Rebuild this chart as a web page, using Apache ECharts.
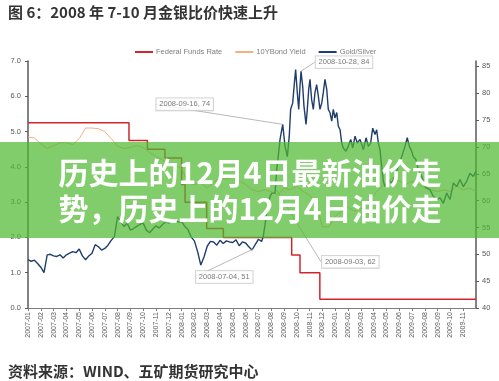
<!DOCTYPE html>
<html><head><meta charset="utf-8">
<script src="https://cdn.jsdelivr.net/npm/echarts@6/dist/echarts.min.js"></script>
<style>html,body{margin:0;padding:0;background:#fff}#c{width:499px;height:381px}</style>
</head><body><div id="c"></div>
<script>
// ---------- data ----------
const titleText = '图 6：2008 年 7-10 月金银比价快速上升';
const sourceText = '资料来源：WIND、五矿期货研究中心';
const bannerLines = ['历史上的12月4日最新油价走', '势，历史上的12月4日油价走'];
const seriesNames = ['Federal Funds Rate', '10YBond Yield', 'Gold/Silver'];
const startYear = 2007;          // month index 0 = 2007-01
const monthCount = 35;           // axis end = 2009-12
// Federal funds rate: month index where a level starts, and the level (%)
const fedMonth = [0, 7.89, 9.33, 10.7, 12.0, 12.27, 13.96, 15.26, 20.6, 21.25, 22.8, 35];
const fedRate  = [5.25, 4.75, 4.5, 4.25, 3.5, 3.0, 2.25, 2.0, 1.5, 1.0, 0.25, 0.25];
// 10Y bond yield (%), every half month from 2007-01
const bondStep = 0.5;
const bondYield = [4.84, 4.82, 4.65, 4.52, 4.60, 4.68, 4.68, 4.63, 4.80, 5.10,
  5.10, 5.08, 5.00, 4.80, 4.58, 4.52, 4.55, 4.60, 4.55, 4.40,
  4.30, 4.20, 4.10, 4.05, 3.95, 3.55, 3.50, 3.55, 3.40, 3.55,
  3.70, 3.65, 3.70, 3.60, 3.50, 3.35, 3.30, 3.35, 3.30, 3.20,
  3.40, 3.35, 3.45, 3.30, 3.20, 3.00, 2.30, 2.30, 2.60, 2.75,
  2.85, 2.75, 2.80, 3.00, 3.20, 3.40, 3.55, 3.70, 3.60, 3.50,
  3.60, 3.50, 3.40, 3.35, 3.30, 3.35, 3.30, 3.45, 3.35, 3.40, 3.30];
// Gold/Silver ratio, weekly (quarter month) from 2007-01 to mid 2008
const gsStep = 0.25;
const gsEarly = [49.0, 48.7, 48.9, 48.3, 47.6, 46.6, 49.9, 50.0, 49.7, 49.6,
  49.9, 49.3, 49.9, 50.2, 50.5, 50.3, 51.0, 49.7, 49.0, 49.7,
  50.2, 51.8, 51.4, 50.8, 51.1, 51.7, 52.6, 53.3, 57.0, 56.0,
  55.2, 55.8, 54.5, 54.8, 55.2, 55.6, 55.8, 54.5, 54.0, 54.7,
  55.3, 54.9, 55.5, 56.1, 55.8, 56.3, 56.4, 56.0, 56.1, 55.2,
  54.6, 53.2, 52.5, 50.5, 48.0, 49.5, 51.5, 52.4, 52.3, 51.7,
  52.6, 52.0, 52.5, 52.3, 52.2, 52.7, 51.6, 52.3, 52.1, 51.4,
  50.8, 51.8, 52.8, 52.4];
// Gold/Silver ratio, later part (month index, value)
const gsLateMonth = [18.38, 18.65, 18.91, 19.04, 19.30, 19.43, 19.55, 19.69, 19.90, 20.08,
  20.26, 20.41, 20.52, 20.68, 20.80, 20.91, 21.04, 21.15, 21.25, 21.33,
  21.46, 21.56, 21.72, 21.82, 21.93, 22.03, 22.16, 22.29, 22.42, 22.55,
  22.68, 22.81, 22.95, 23.07, 23.20, 23.34, 23.46, 23.59, 23.73, 23.85,
  23.98, 24.12, 24.24, 24.38, 24.51, 24.63, 24.84, 25.02, 25.21, 25.37,
  25.55, 25.73, 25.94, 26.20, 26.41, 26.59, 26.77, 26.93, 27.11, 27.24,
  27.37, 27.50, 27.63, 27.76, 27.89, 28.15, 28.41, 28.67, 28.93, 29.20,
  29.45, 29.63, 29.79, 29.98, 30.10, 30.31, 30.49, 30.76, 31.02, 31.41,
  31.66, 31.93, 32.19, 32.45, 32.71, 32.97, 33.23, 33.49, 33.75, 34.01,
  34.27, 34.53, 34.79, 35.00];
const gsLateValue = [53.3, 57.7, 60.8, 61.4, 61.4, 65.8, 68.2, 71.4, 74.2, 70.1,
  68.2, 72.0, 77.0, 78.2, 81.6, 84.4, 80.1, 77.0, 81.3, 84.1,
  81.3, 77.6, 74.2, 77.0, 80.7, 82.6, 78.8, 77.0, 80.1, 81.6,
  79.5, 77.0, 78.2, 80.1, 82.6, 80.7, 77.0, 76.4, 74.8, 77.0,
  75.4, 76.4, 73.9, 73.2, 70.7, 69.8, 69.2, 70.1, 71.4, 69.8,
  72.0, 70.7, 71.4, 69.5, 71.7, 70.1, 70.7, 73.5, 72.3, 73.2,
  70.7, 69.5, 66.4, 63.6, 62.6, 63.9, 63.3, 64.5, 66.4, 68.2,
  70.1, 71.7, 70.1, 69.2, 68.2, 67.6, 65.8, 64.5, 62.6, 62.0,
  60.8, 60.2, 60.5, 59.5, 61.4, 60.2, 63.3, 62.6, 63.9, 62.6,
  63.6, 65.1, 64.5, 65.5];
// callouts on the Gold/Silver line
const annoMonth = [19.90, 21.33, 19.40, 17.60];
const annoValue = [74.2, 84.1, 62, 51];
const annoText = ['2008-09-16, 74', '2008-10-28, 84', '2008-09-03, 62', '2008-07-04, 51'];
// ---------- layout / style ----------
const annoOffset = [[-98, -20], [43, -9], [74, 72], [-29, 28]];
const latin = '"Liberation Sans", Arial, sans-serif';
const cjk = '"Noto Sans CJK SC", sans-serif';

const fedData = fedMonth.map((m, i) => [m, fedRate[i]]);
const bondData = bondYield.map((v, i) => [i * bondStep, v]);
const gsData = gsEarly.map((v, i) => [i * gsStep, v])
  .concat(gsLateMonth.map((m, i) => [m, gsLateValue[i]]));
const annoData = annoMonth.map((m, i) => ({ value: [m, annoValue[i]], name: annoText[i] }));

const chart = echarts.init(document.getElementById('c'));
chart.setOption({
  animation: false,
  backgroundColor: '#fff',
  title: [
    { text: titleText, left: 3, top: 0, textStyle: { fontFamily: cjk, fontSize: 15, fontWeight: 'bold', color: '#333' } },
    { text: sourceText, left: 3, top: 359, textStyle: { fontFamily: cjk, fontSize: 15, fontWeight: 'bold', color: '#333' } }
  ],
  legend: {
    left: 130, top: 43, itemWidth: 18, itemHeight: 2, itemGap: 13, icon: 'rect',
    data: seriesNames,
    textStyle: { fontFamily: latin, fontSize: 7.5, color: '#7f7f7f', padding: [0, 0, 0, -2] }
  },
  grid: { left: 28, right: 23, top: 61, bottom: 73 },
  xAxis: {
    type: 'value', min: 0, max: monthCount, interval: 1,
    splitLine: { show: false },
    axisLine: { lineStyle: { color: '#7f7f7f', width: 1 } },
    axisTick: { show: true, length: 3, lineStyle: { color: '#7f7f7f' } },
    axisLabel: {
      rotate: 90, fontSize: 7, color: '#595959', fontFamily: latin, margin: 4, showMaxLabel: false,
      formatter: v => {
        const y = startYear + Math.floor(v / 12), mo = v % 12 + 1;
        return y + '-' + (mo < 10 ? '0' : '') + mo;
      }
    }
  },
  yAxis: [
    { type: 'value', min: 0, max: 7, interval: 1, position: 'left',
      splitLine: { show: false },
      axisLine: { show: true, lineStyle: { color: '#595959', width: 1.5 } },
      axisTick: { show: true, length: 3, lineStyle: { color: '#595959' } },
      axisLabel: { formatter: v => v.toFixed(1), fontSize: 7.5, color: '#595959', fontFamily: latin, margin: 7 } },
    { type: 'value', min: 40, max: 86, interval: 5, position: 'right',
      splitLine: { show: false },
      axisLine: { show: true, lineStyle: { color: '#595959', width: 1.5 } },
      axisTick: { show: true, length: 3, lineStyle: { color: '#595959' } },
      axisLabel: { fontSize: 7.5, color: '#595959', fontFamily: latin, margin: 6, showMaxLabel: false } }
  ],
  series: [
    { name: seriesNames[0], type: 'line', step: 'end', yAxisIndex: 0, symbol: 'none', data: fedData,
      lineStyle: { color: '#d0262b', width: 1.5 }, itemStyle: { color: '#d0262b' } },
    { name: seriesNames[1], type: 'line', yAxisIndex: 0, symbol: 'none', data: bondData,
      lineStyle: { color: '#f2b183', width: 1 }, itemStyle: { color: '#f2b183' } },
    { name: seriesNames[2], type: 'line', yAxisIndex: 1, symbol: 'none', data: gsData,
      lineStyle: { color: '#1f3d6b', width: 1.4 }, itemStyle: { color: '#1f3d6b' } },
    { name: 'callout', type: 'scatter', yAxisIndex: 1, symbolSize: 0, data: annoData, z: 5,
      label: { show: true, position: 'inside', formatter: p => p.name, fontFamily: latin, fontSize: 7.5,
        color: '#595959', backgroundColor: '#fff', borderColor: '#bfbfbf', borderWidth: 0.8, padding: [2, 3] },
      labelLine: { show: true, lineStyle: { color: '#a6a6a6', width: 0.8 } },
      labelLayout: p => ({ dx: annoOffset[p.dataIndex][0], dy: annoOffset[p.dataIndex][1] }) }
  ],
  graphic: [
    { type: 'rect', z: 100, shape: { x: 0, y: 142, width: 499, height: 96 }, style: { fill: 'rgba(80,185,50,0.72)' } },
    { type: 'text', z: 101, x: 250, y: 173, style: { text: bannerLines[0], fill: '#fff', font: 'bold 30px "Noto Sans CJK SC"', align: 'center', verticalAlign: 'middle', textAlign: 'center', textVerticalAlign: 'middle' } },
    { type: 'text', z: 101, x: 250, y: 209, style: { text: bannerLines[1], fill: '#fff', font: 'bold 30px "Noto Sans CJK SC"', align: 'center', verticalAlign: 'middle', textAlign: 'center', textVerticalAlign: 'middle' } }
  ]
});
</script></body></html>
